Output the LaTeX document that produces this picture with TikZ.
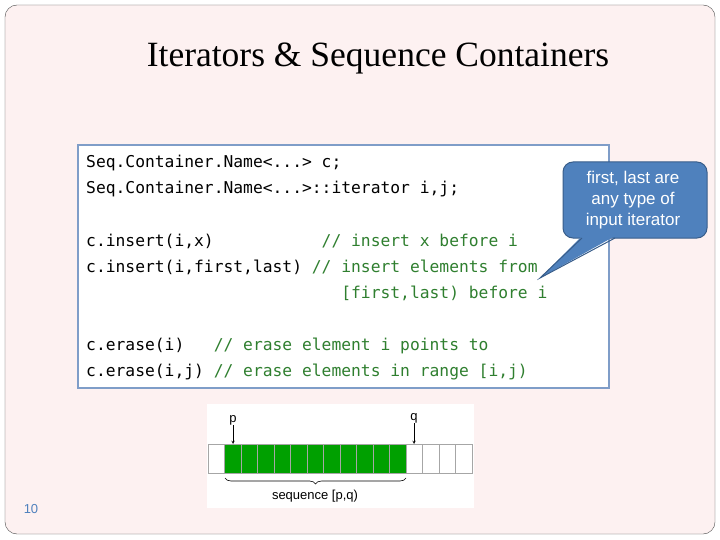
\documentclass[tikz,border=0pt]{standalone}
\usepackage{fontspec}
\setmainfont{Liberation Serif}
\newfontfamily\mono{DejaVu Sans Mono}
\newfontfamily\sans{Liberation Sans}
\usetikzlibrary{decorations.pathreplacing}
\definecolor{bgpink}{HTML}{FDF1F1}
\definecolor{boxblue}{HTML}{7F9DC8}
\definecolor{cmt}{HTML}{2F7F2F}
\definecolor{callout}{HTML}{4F81BD}
\definecolor{calloutd}{HTML}{385D8A}
\definecolor{cellg}{HTML}{00A000}
\tikzset{code/.style={anchor=base west,inner sep=0,font=\mono\fontsize{16.3}{18}\selectfont},
 cell/.style={draw=gray!70,line width=0.6pt}}
\begin{document}
\begin{tikzpicture}[x=1pt,y=-1pt]
\useasboundingbox (0,0) rectangle (720,540);
\fill[white] (0,0) rectangle (720,540);
\draw[fill=bgpink,draw=black!70,rounded corners=12] (5,5) rectangle (715,534);
\node[font=\fontsize{35.5}{38}\selectfont] (title) at (378,58) {Iterators \& Sequence Containers};
\draw[fill=white,draw=boxblue,line width=1.5pt] (78,145) rectangle (609,388);
\node[code] (l1) at (86,168) {Seq.Container.Name<...> c;};
\node[code] (l2) at (86,194) {Seq.Container.Name<...>::iterator i,j;};
\node[code] (l3) at (86,246) {c.insert(i,x)\phantom{xxxxxxxxxxx}\textcolor{cmt}{// insert x before i}};
\node[code] (l4) at (86,272) {c.insert(i,first,last) \textcolor{cmt}{// insert elements from}};
\node[code] (l5) at (86,298) {\phantom{c.insert(i,first,last) //} \textcolor{cmt}{[first,last) before i}};
\node[code] (l6) at (86,350) {c.erase(i)\phantom{xx} \textcolor{cmt}{// erase element i points to}};
\node[code] (l7) at (86,376) {c.erase(i,j) \textcolor{cmt}{// erase elements in range [i,j)}};
% callout
\coordinate (tip) at (540,278);
\draw[fill=callout,draw=calloutd,line width=1pt,rounded corners=10] (563,162) rectangle (707,238);
\fill[callout] (582,236) -- (tip) -- (615,236) -- cycle;
\draw[calloutd,line width=1pt] (582,238) -- (tip) -- (615,238);
\node[text=white,font=\sans\fontsize{17}{21}\selectfont,align=center] (co) at (633,200) {first, last are\\any type of\\input iterator};
% image
\fill[white] (207,404) rectangle (474,508);
\fill[cellg] (224.5,444) rectangle (406,473);
\foreach \i in {0,...,15}{\draw[cell] ({208+16.5*\i},444) rectangle ({224.5+16.5*\i},473);}
\node[font=\sans\fontsize{13}{15}\selectfont,inner sep=0] (p) at (233,420) {p};
\node[font=\sans\fontsize{13}{15}\selectfont,inner sep=0] (q) at (414,418) {q};
\draw[-stealth,line width=0.5pt] (p.south) -- (233,444);
\draw[-stealth,line width=0.5pt] (q.south) -- (414,444);
\draw[decorate,decoration={brace,mirror,amplitude=6pt},line width=0.6pt] (225,478) -- (406,478);
\node[font=\sans\fontsize{13}{15}\selectfont] (seq) at (315,496) {sequence [p,q)};
\node[font=\sans\fontsize{13}{15}\selectfont,text=callout] (pg) at (31,509) {10};
\end{tikzpicture}
\end{document}
